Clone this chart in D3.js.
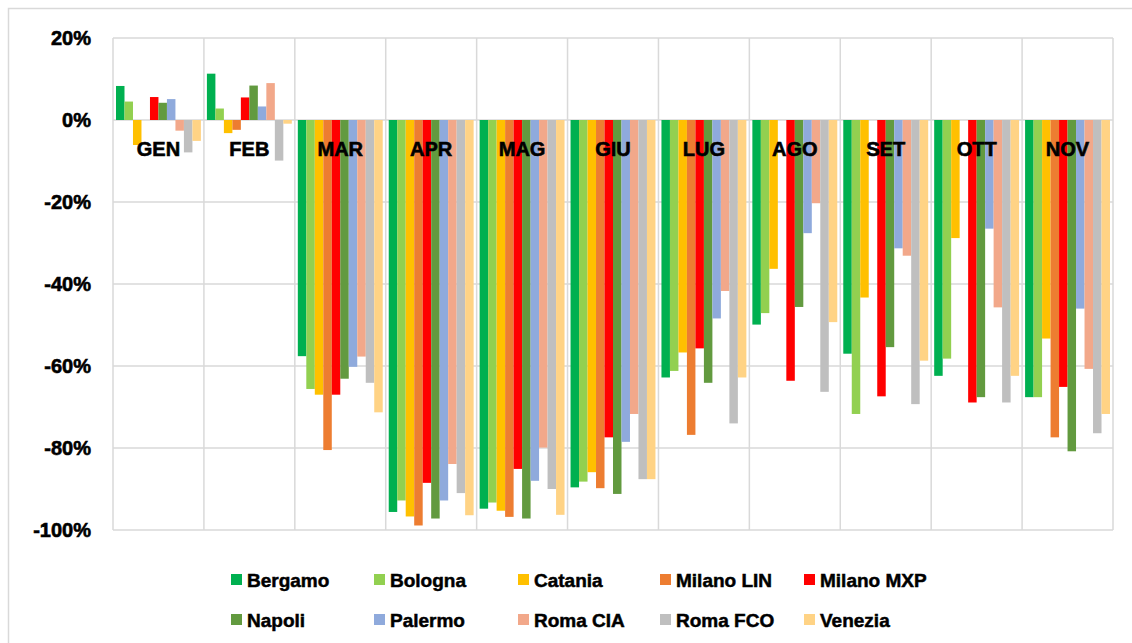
<!DOCTYPE html>
<html><head><meta charset="utf-8">
<script src="https://cdn.jsdelivr.net/npm/d3@7"></script>
<style>body{margin:0;background:#fff;} text{font-family:"Liberation Sans",Arial,sans-serif;font-weight:bold;}</style>
</head><body><svg id="c" width="1132" height="643"></svg>
<script>
const months = ["GEN","FEB","MAR","APR","MAG","GIU","LUG","AGO","SET","OTT","NOV"];
const airports = ["Bergamo","Bologna","Catania","Milano LIN","Milano MXP","Napoli","Palermo","Roma CIA","Roma FCO","Venezia"];
const colors = ["#00B050","#92D050","#FFC000","#ED7D31","#FF0000","#629A3F","#8FAADC","#F2A88A","#BFBFBF","#FFD385"];
const yTicks = [20,0,-20,-40,-60,-80,-100];
const bergamo   = [8.3,11.3,-57.6,-95.6,-94.8,-89.6,-62.8,-49.9,-57.0,-62.4,-67.6];
const bologna   = [4.5,2.8,-65.6,-92.8,-93.3,-88.2,-61.2,-47.1,-71.7,-58.2,-67.6];
const catania   = [-6.1,-3.2,-67.0,-96.7,-95.3,-85.9,-56.7,-36.3,-43.3,-28.8,-53.3];
const milanoLIN = [null,-2.4,-80.5,-98.9,-96.8,-89.8,-76.8,null,null,null,-77.4];
const milanoMXP = [5.6,5.5,-67.0,-88.5,-85.1,-77.4,-55.7,-63.6,-67.4,-68.9,-65.1];
const napoli    = [4.2,8.4,-63.1,-97.2,-97.2,-91.2,-64.1,-45.6,-55.4,-67.6,-80.8];
const palermo   = [5.1,3.3,-60.2,-92.8,-88.0,-78.5,-48.4,-27.6,-31.3,-26.5,-46.0];
const romaCIA   = [-2.6,9.0,-57.7,-83.9,-79.9,-71.7,-41.7,-20.3,-33.1,-45.7,-60.7];
const romaFCO   = [-7.9,-9.9,-64.1,-91.0,-90.0,-87.6,-74.0,-66.3,-69.3,-68.9,-76.4];
const venezia   = [-5.1,-0.9,-71.3,-96.4,-96.3,-87.6,-62.8,-49.3,-58.7,-62.4,-71.7];
const series = [bergamo,bologna,catania,milanoLIN,milanoMXP,napoli,palermo,romaCIA,romaFCO,venezia];

const svg = d3.select("#c");
// outer border
svg.append("rect").attr("x",8.5).attr("y",8.5).attr("width",1130).attr("height",640)
  .attr("fill","none").attr("stroke","#D9D9D9").attr("stroke-width",1.5);

const L=113, R=1113, T=38, B=530;
const x0 = d3.scaleBand().domain(months).range([L,R]).paddingInner(0.066).paddingOuter(0.033);
const x1 = d3.scaleBand().domain(airports).range([0,x0.bandwidth()]);
const y = d3.scaleLinear().domain([-100,20]).range([B,T]);

// horizontal grid
svg.append("g").selectAll("line").data(yTicks).join("line")
  .attr("x1",L).attr("x2",R).attr("y1",d=>y(d)).attr("y2",d=>y(d))
  .attr("stroke","#D9D9D9").attr("stroke-width",1.5);
// vertical grid (category boundaries)
const step = x0.step();
const bounds = d3.range(months.length+1).map(i=>L+i*(R-L)/months.length);
svg.append("g").selectAll("line").data(bounds).join("line")
  .attr("x1",d=>d).attr("x2",d=>d).attr("y1",T).attr("y2",B)
  .attr("stroke","#D9D9D9").attr("stroke-width",1.5);

// bars
const g = svg.append("g");
months.forEach((m,mi)=>{
  airports.forEach((a,ai)=>{
    const v = series[ai][mi];
    if(v===null) return;
    g.append("rect")
      .attr("x", x0(m)+x1(a))
      .attr("width", x1.bandwidth())
      .attr("y", y(Math.max(0,v)))
      .attr("height", Math.abs(y(v)-y(0)))
      .attr("fill", colors[ai]);
  });
});

// y axis labels
const yAxis = d3.axisLeft(y).tickValues(yTicks).tickFormat(d=>d+"%").tickSize(0).tickPadding(0);
const ya = svg.append("g").attr("transform",`translate(91,0)`).call(yAxis);
ya.select(".domain").remove();
ya.selectAll("text").attr("font-size",20).attr("fill","#000")
  .attr("font-family","Liberation Sans, Arial, sans-serif").attr("font-weight","bold")
  .attr("stroke","#000").attr("stroke-width",0.6);

// month labels
svg.append("g").selectAll("text").data(months).join("text")
  .attr("x",d=>x0(d)+x0.bandwidth()/2).attr("y",156)
  .attr("text-anchor","middle").attr("font-size",20).attr("fill","#000")
  .attr("stroke","#000").attr("stroke-width",0.6)
  .text(d=>d);

// legend
const legX = [231,374,518,660,804];
const legY = [580,620];
const lg = svg.append("g");
airports.forEach((a,i)=>{
  const col=i%5, row=Math.floor(i/5);
  lg.append("rect").attr("x",legX[col]).attr("y",legY[row]-6).attr("width",11).attr("height",11).attr("fill",colors[i]);
  lg.append("text").attr("x",legX[col]+16).attr("y",legY[row]+7)
    .attr("font-size",19).attr("fill","#000").attr("stroke","#000").attr("stroke-width",0.5).text(a);
});
</script></body></html>
